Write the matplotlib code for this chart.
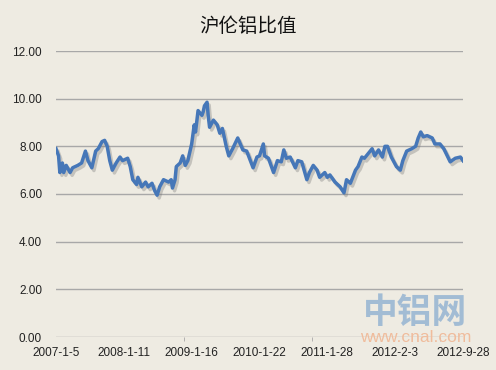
import matplotlib
matplotlib.use("Agg")
import matplotlib.pyplot as plt
import matplotlib.patheffects as pe
from matplotlib.ticker import FixedLocator, FuncFormatter

# ---- data (week index since 2007-1-5, Shanghai/London aluminium ratio) ----
weeks = [0, 2, 3, 5, 6, 8, 11, 13, 17, 20, 23, 25, 28, 31, 33, 36, 38, 40, 42, 44,
         47, 50, 52, 56, 58, 60, 63, 64, 67, 70, 72, 75, 77, 79, 81, 84, 88, 90, 91, 93,
         94, 97, 99, 101, 103, 106, 108, 109, 111, 114, 115, 116, 118, 119, 120, 123, 126, 128, 130, 133,
         135, 138, 142, 146, 149, 154, 157, 159, 162, 163, 166, 170, 173, 176, 178, 180, 183, 187, 189, 192,
         196, 198, 201, 204, 206, 210, 212, 214, 218, 222, 225, 227, 230, 234, 236, 239, 241, 244, 247, 249,
         252, 255, 257, 259, 262, 266, 269, 271, 274, 278, 281, 283, 285, 287, 290, 294, 296, 300, 303, 308,
         312, 316, 318]
ratio = [7.9, 7.6, 6.9, 7.3, 6.9, 7.2, 6.9, 7.1, 7.2, 7.3, 7.8, 7.4, 7.1, 7.8, 7.9, 8.2, 8.25, 8.0, 7.4, 7.0,
         7.3, 7.55, 7.4, 7.5, 7.15, 6.6, 6.4, 6.7, 6.3, 6.5, 6.3, 6.45, 6.15, 5.95, 6.3, 6.6, 6.5, 6.6, 6.25, 6.6,
         7.15, 7.3, 7.6, 7.2, 7.4, 8.1, 8.9, 8.6, 9.5, 9.3, 9.45, 9.7, 9.85, 9.25, 8.8, 9.1, 8.9, 8.55, 8.75, 8.0,
         7.6, 7.9, 8.35, 7.85, 7.8, 7.1, 7.55, 7.6, 8.1, 7.6, 7.5, 6.9, 7.4, 7.35, 7.85, 7.5, 7.55, 7.1, 7.4, 7.35,
         6.6, 6.9, 7.2, 7.0, 6.7, 6.9, 6.7, 6.8, 6.5, 6.3, 6.05, 6.6, 6.45, 7.0, 7.15, 7.55, 7.5, 7.7, 7.9, 7.6,
         7.85, 7.55, 8.0, 8.0, 7.55, 7.15, 7.0, 7.4, 7.8, 7.9, 8.0, 8.35, 8.6, 8.4, 8.45, 8.35, 8.1, 8.1, 7.9, 7.35,
         7.5, 7.55, 7.4]
label_weeks = [0, 53, 106, 159, 212, 265, 318]
labels = ["2007-1-5", "2008-1-11", "2009-1-16", "2010-1-22", "2011-1-28", "2012-2-3", "2012-9-28"]
yticks = [0, 2, 4, 6, 8, 10, 12]
minor_weeks = [0, 100, 200, 300]

bg = "#EEEBE2"
fig = plt.figure(figsize=(4.96, 3.70), dpi=100, facecolor=bg)
ax = fig.add_axes([56/496, 1-337/370, 407/496, 286/370])
ax.set_facecolor(bg)

ax.plot(weeks, ratio, color="#4677B8", lw=2.5, solid_joinstyle="round", zorder=3,
        path_effects=[pe.SimpleLineShadow(offset=(1.5, -2), shadow_color="#777777", alpha=0.35),
                      pe.Normal()])

ax.set_xlim(0, 318)
ax.set_ylim(0, 12)
for s in ax.spines.values():
    s.set_visible(False)
ax.set_yticks(yticks)
ax.yaxis.set_major_formatter(FuncFormatter(lambda v, p: f"{v:.2f}"))
ax.grid(axis="y", color="#A8A8A8", lw=1.0)
ax.set_axisbelow(True)
ax.tick_params(axis="y", length=0, pad=10, labelsize=8.5, labelcolor="#222222")
ax.set_xticks(label_weeks)
ax.set_xticklabels(labels)
ax.xaxis.set_minor_locator(FixedLocator(minor_weeks))
ax.tick_params(axis="x", which="major", length=0, pad=7, labelsize=8.5, labelcolor="#222222")
ax.tick_params(axis="x", which="minor", length=3, color="#A8A8A8", direction="out")
for t in ax.get_xticklabels() + ax.get_yticklabels():
    t.set_family(["Liberation Sans", "DejaVu Sans"])

fig.text(0.5, 1-26/370, "沪伦铝比值", ha="center", va="center", fontsize=14, fontweight="medium",
         family=["Noto Sans CJK SC", "DejaVu Sans"], color="#111111")

# watermark
fig.text(415.5/496, 1-312/370, "中铝网", ha="center", va="center", fontsize=25,
         fontweight="bold", family=["Noto Sans CJK SC", "DejaVu Sans"], color="#A2BCD4")
fig.text(415.5/496, 1-338/370, "www.cnal.com", ha="center", va="center", fontsize=12.5,
         family=["Liberation Sans", "DejaVu Sans"], color="#F0BC9C")

fig.savefig("out.png", dpi=100, facecolor=bg)
